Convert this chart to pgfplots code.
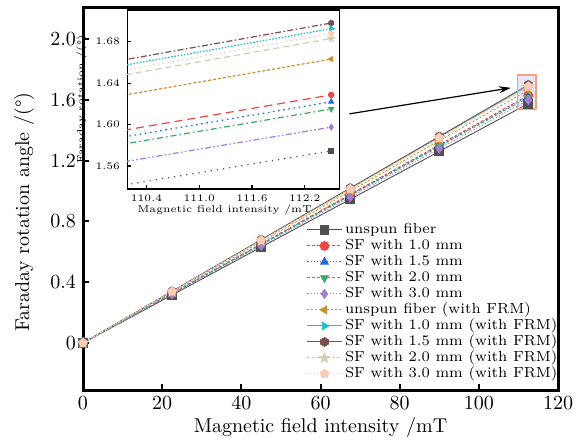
\documentclass[border=0pt]{standalone}
\usepackage{pgfplots}
\usepackage{pgfplotstable}
\pgfplotsset{compat=1.18}
\usetikzlibrary{plotmarks,arrows.meta,calc}

\definecolor{cK}{HTML}{505050}
\definecolor{cR}{HTML}{F04545}
\definecolor{cB}{HTML}{2168D8}
\definecolor{cG}{HTML}{3CA86A}
\definecolor{cP}{HTML}{A77BD6}
\definecolor{cO}{HTML}{C8922E}
\definecolor{cC}{HTML}{20C0C8}
\definecolor{cBr}{HTML}{7A4F50}
\definecolor{cBe}{HTML}{D2CEB4}
\definecolor{cPe}{HTML}{FCCDB6}
\definecolor{cBox}{HTML}{F2A080}

\pgfdeclareplotmark{hexagon*}{%
  \pgfpathmoveto{\pgfpointpolar{30}{\pgfplotmarksize}}%
  \pgfpathlineto{\pgfpointpolar{90}{\pgfplotmarksize}}%
  \pgfpathlineto{\pgfpointpolar{150}{\pgfplotmarksize}}%
  \pgfpathlineto{\pgfpointpolar{210}{\pgfplotmarksize}}%
  \pgfpathlineto{\pgfpointpolar{270}{\pgfplotmarksize}}%
  \pgfpathlineto{\pgfpointpolar{330}{\pgfplotmarksize}}%
  \pgfpathclose\pgfusepathqfillstroke}
\pgfdeclareplotmark{fstar*}{%
  \pgfpathmoveto{\pgfpointpolar{90}{1.15\pgfplotmarksize}}%
  \pgfpathlineto{\pgfpointpolar{126}{0.47\pgfplotmarksize}}%
  \pgfpathlineto{\pgfpointpolar{162}{1.15\pgfplotmarksize}}%
  \pgfpathlineto{\pgfpointpolar{198}{0.47\pgfplotmarksize}}%
  \pgfpathlineto{\pgfpointpolar{234}{1.15\pgfplotmarksize}}%
  \pgfpathlineto{\pgfpointpolar{270}{0.47\pgfplotmarksize}}%
  \pgfpathlineto{\pgfpointpolar{306}{1.15\pgfplotmarksize}}%
  \pgfpathlineto{\pgfpointpolar{342}{0.47\pgfplotmarksize}}%
  \pgfpathlineto{\pgfpointpolar{18}{1.15\pgfplotmarksize}}%
  \pgfpathlineto{\pgfpointpolar{54}{0.47\pgfplotmarksize}}%
  \pgfpathclose\pgfusepathqfillstroke}

\pgfplotstableread{
x     K      R      B      G      P      O      C      Br     Be     Pe
0     0      0      0      0      0      0      0      0      0      0
22.5  0.3149 0.3257 0.3244 0.3230 0.3195 0.3326 0.3385 0.3396 0.3366 0.3376
45    0.6298 0.6514 0.6488 0.6460 0.6390 0.6653 0.6770 0.6792 0.6732 0.6751
67.5  0.9447 0.9772 0.9732 0.9690 0.9585 0.9979 1.0155 1.0188 1.0098 1.0127
90    1.2596 1.3029 1.2976 1.2920 1.2780 1.3306 1.3541 1.3584 1.3464 1.3502
112.5 1.5745 1.6286 1.6220 1.6150 1.5975 1.6632 1.6926 1.6980 1.6830 1.6878
}\datatable

\begin{document}
\begin{tikzpicture}
\begin{axis}[
  name=main,
  scale only axis, width=237.5pt, height=191.5pt,
  xmin=0, xmax=120, ymin=-0.31, ymax=2.21,
  xtick={0,20,...,120},
  ytick={0,0.4,0.8,1.2,1.6,2.0},
  yticklabels={0,0.4,0.8,1.2,1.6,2.0},
  tick align=inside, xtick pos=bottom, ytick pos=left,
  major tick length=3pt,
  axis line style={line width=1.5pt},
  every tick/.style={black, line width=1pt},
  tick label style={font=\fontsize{10}{12}\selectfont},
  label style={font=\fontsize{10}{12}\selectfont},
  xlabel={Magnetic field intensity /mT},
  ylabel={Faraday rotation angle /(\textdegree)},
  xlabel style={at={(axis description cs:0.5,-0.099)}, anchor=center},
  ylabel style={at={(axis description cs:-0.124,0.465)}, anchor=center},
  legend cell align=left,
  legend style={at={(1.006,0.02)}, anchor=south east, draw=none, fill=none,
    inner sep=0pt, row sep=0pt,
    font=\fontsize{7.3}{8}\selectfont,
    nodes={inner ysep=0.5pt, inner xsep=1.5pt, text height=5.5pt, text depth=1.5pt}},
  every axis plot/.append style={line width=0.45pt, mark size=2.2pt, mark options={solid}},
]
\addplot[cK, solid, mark=square*] table[x=x,y=K] \datatable;
\addlegendentry{unspun fiber}
\addplot[cR, dash pattern=on 1.5pt off 1pt, mark=*] table[x=x,y=R] \datatable;
\addlegendentry{SF with 1.0 mm}
\addplot[cB, dash pattern=on 0.6pt off 1pt, mark=triangle*] table[x=x,y=B] \datatable;
\addlegendentry{SF with 1.5 mm}
\addplot[cG, dash pattern=on 1.5pt off 1pt, mark=triangle*, mark options={solid, rotate=180}] table[x=x,y=G] \datatable;
\addlegendentry{SF with 2.0 mm}
\addplot[cP, dash pattern=on 0.6pt off 1pt, mark=diamond*] table[x=x,y=P] \datatable;
\addlegendentry{SF with 3.0 mm}
\addplot[cO, dash pattern=on 1pt off 1pt, mark=triangle*, mark options={solid, rotate=90}] table[x=x,y=O] \datatable;
\addlegendentry{unspun fiber (with FRM)}
\addplot[cC, solid, mark=triangle*, mark options={solid, rotate=-90}] table[x=x,y=C] \datatable;
\addlegendentry{SF with 1.0 mm (with FRM)}
\addplot[cBr, solid, mark=hexagon*] table[x=x,y=Br] \datatable;
\addlegendentry{SF with 1.5 mm (with FRM)}
\addplot[cBe, dash pattern=on 1.5pt off 1pt, mark=fstar*] table[x=x,y=Be] \datatable;
\addlegendentry{SF with 2.0 mm (with FRM)}
\addplot[cPe, dash pattern=on 0.6pt off 1pt, mark=pentagon*] table[x=x,y=Pe] \datatable;
\addlegendentry{SF with 3.0 mm (with FRM)}

\draw[draw=cBox, fill=gray!60!blue!40, fill opacity=0.35, line width=0.7pt]
  (axis cs:109.7,1.539) rectangle (axis cs:114.4,1.763);
\draw[-{Stealth[length=6pt,width=3.5pt]}, line width=0.6pt]
  (axis cs:67.3,1.507) -- (axis cs:108.1,1.678);
\end{axis}

\begin{axis}[
  at={($(main.south west)+(22pt,100.5pt)$)}, anchor=south west,
  scale only axis, width=106pt, height=89.5pt,
  xmin=110.18, xmax=112.59, ymin=1.5378, ymax=1.7106,
  xtick={110.4,111.0,111.6,112.2},
  xticklabels={110.4,111.0,111.6,112.2},
  ytick={1.56,1.60,1.64,1.68},
  yticklabels={1.56,1.60,1.64,1.68},
  tick align=inside, xtick pos=bottom, ytick pos=left,
  major tick length=2pt,
  axis line style={line width=0.6pt},
  every tick/.style={black, line width=0.6pt},
  axis background/.style={fill=white},
  tick label style={font=\fontsize{5}{6}\selectfont},
  xticklabel style={yshift=0.5pt},
  xlabel={Magnetic field intensity /mT},
  ylabel={Faraday rotation /(\textdegree)},
  every axis x label/.style={at={(axis description cs:0.46,-0.117)}, anchor=center, font=\fontsize{5}{6}\selectfont},
  every axis y label/.style={at={(axis description cs:-0.215,0.5)}, rotate=90, anchor=center, font=\fontsize{5}{6}\selectfont},
  every axis plot/.append style={line width=0.6pt, mark size=1.3pt},
]
\addplot[cK, dash pattern=on 0.6pt off 2.5pt, no marks] table[x=x,y=K] \datatable;
\addplot[cR, dash pattern=on 4pt off 2.5pt, no marks] table[x=x,y=R] \datatable;
\addplot[cB, dash pattern=on 0.8pt off 1.8pt, no marks] table[x=x,y=B] \datatable;
\addplot[cG, dash pattern=on 3pt off 1.5pt on 0.8pt off 1.5pt, no marks] table[x=x,y=G] \datatable;
\addplot[cP, dash pattern=on 3pt off 1.2pt on 0.8pt off 1.2pt on 0.8pt off 1.2pt, no marks] table[x=x,y=P] \datatable;
\addplot[cO, dash pattern=on 1.5pt off 1pt, no marks] table[x=x,y=O] \datatable;
\addplot[cC, dash pattern=on 0.8pt off 0.8pt, no marks] table[x=x,y=C] \datatable;
\addplot[cBr, dash pattern=on 3pt off 1.2pt on 0.8pt off 1.2pt, no marks] table[x=x,y=Br] \datatable;
\addplot[cBe, dash pattern=on 3pt off 2pt, no marks] table[x=x,y=Be] \datatable;
\addplot[cPe, dash pattern=on 0.8pt off 1.6pt, no marks] table[x=x,y=Pe] \datatable;
% markers at the last point only
\addplot[only marks, cK, mark=square*] coordinates {(112.5,1.5745)};
\addplot[only marks, cR, mark=*] coordinates {(112.5,1.6286)};
\addplot[only marks, cB, mark=triangle*] coordinates {(112.5,1.6220)};
\addplot[only marks, cG, mark=triangle*, mark options={rotate=180}] coordinates {(112.5,1.6150)};
\addplot[only marks, cP, mark=diamond*] coordinates {(112.5,1.5975)};
\addplot[only marks, cO, mark=triangle*, mark options={rotate=90}] coordinates {(112.5,1.6632)};
\addplot[only marks, cC, mark=triangle*, mark options={rotate=-90}] coordinates {(112.5,1.6926)};
\addplot[only marks, cBr, mark=hexagon*] coordinates {(112.5,1.6980)};
\addplot[only marks, cBe, mark=fstar*] coordinates {(112.5,1.6830)};
\addplot[only marks, cPe, mark=pentagon*] coordinates {(112.5,1.6878)};
\end{axis}

\pgfresetboundingbox
\path ($(main.south west)+(-41.5pt,-25.5pt)$) rectangle ++(291.5pt,220.5pt);
\end{tikzpicture}
\end{document}
